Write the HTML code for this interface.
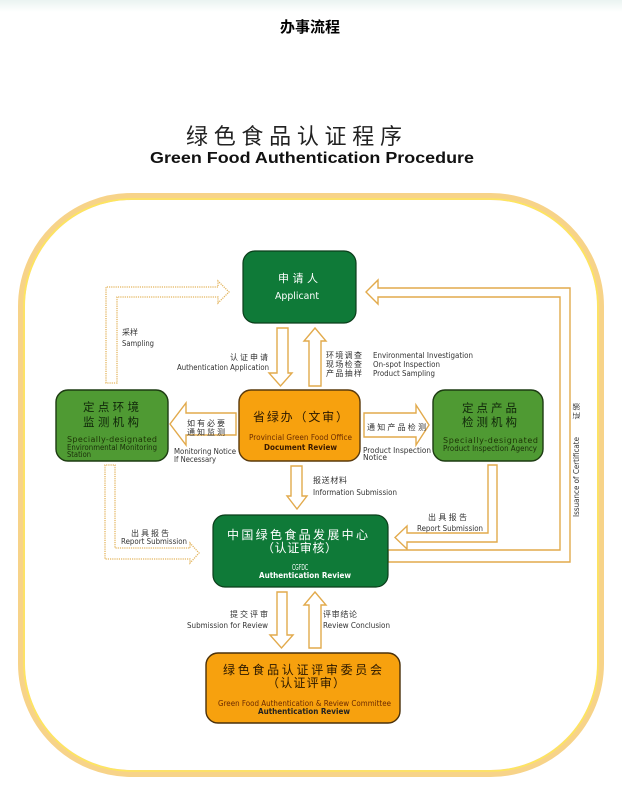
<!DOCTYPE html>
<html><head><meta charset="utf-8"><style>
html,body{margin:0;padding:0;background:#fff;width:622px;height:805px;overflow:hidden}
svg{display:block}
.cn{font-family:"Liberation Sans","Noto Sans CJK SC",sans-serif}
.en{font-family:"DejaVu Sans","Liberation Sans",sans-serif}
</style></head><body>
<svg width="622" height="805" viewBox="0 0 622 805" xmlns="http://www.w3.org/2000/svg">
<defs>
<linearGradient id="tg" x1="0" y1="0" x2="0" y2="1"><stop offset="0" stop-color="#eaf3f1"/><stop offset="1" stop-color="#ffffff"/></linearGradient>
</defs>
<rect x="0" y="0" width="622" height="12" fill="url(#tg)"/>
<text class="cn" x="280" y="32" font-size="15" font-weight="bold" textLength="60" fill="#000">办事流程</text>

<text class="cn" x="186" y="144" font-size="22" textLength="216" fill="#222">绿色食品认证程序</text>
<text x="150" y="163" font-family="Liberation Sans,sans-serif" font-size="16" font-weight="bold" textLength="324" lengthAdjust="spacingAndGlyphs" fill="#111">Green Food Authentication Procedure</text>

<!-- outer frame -->
<rect x="21.5" y="196.5" width="579" height="577" rx="110" fill="none" stroke="#f7d389" stroke-width="7"/>
<rect x="24" y="199" width="574" height="572" rx="107.5" fill="none" stroke="#fde65e" stroke-width="1.6"/>

<!-- arrows -->
<g fill="#fff" stroke="#e2aa4c" stroke-width="1.4" stroke-linejoin="miter">
<path d="M277,328 H288 V373 H292 L280.5,386 L269,373 H277 Z"/>
<path d="M309,386 V341 H304 L315,328 L326,341 H321 V386 Z"/>
<path d="M236,413 H186 V403 L170,424 L186,445 V435 H236 Z"/>
<path d="M364,413 H416 V405 L429,425 L416,445 V437 H364 Z"/>
<path d="M291,466 H302 V496 H307 L297,509 L287,496 H291 Z"/>
<path d="M488,465 V533 H407 V526 L395,537.5 L407,549 V542 H497 V465 Z"/>
<path d="M388,550 H560 V297 H378 V304 L366,292 L378,280 V288 H570 V562 H388 Z"/>
<path d="M277,592 H287 V635 H293 L281.5,648 L270,635 H277 Z"/>
<path d="M309,648 V605 H304 L315,592 L326,605 H321 V648 Z"/>
</g>
<g fill="#fff" stroke="#e3b45c" stroke-width="1.3" stroke-dasharray="1.2 1">
<path d="M106,383 V287 H218 V281 L229,292 L218,303 V297 H117 V383 Z"/>
<path d="M105,465 V559 H190 V563 L199,553 L190,543 V548 H115 V465 Z"/>
</g>

<!-- boxes -->
<rect x="243" y="251" width="113" height="72" rx="12" fill="#0f7a38" stroke="#0b3d1a" stroke-width="1.2"/>
<text class="cn" x="278" y="282" font-size="11" textLength="40" fill="#fff">申请人</text>
<text class="en" x="275" y="299" font-size="10" textLength="44" lengthAdjust="spacingAndGlyphs" fill="#fff">Applicant</text>

<rect x="56" y="390" width="112" height="71" rx="12" fill="#4f9a33" stroke="#1d3b12" stroke-width="1.4"/>
<text class="cn" x="83" y="411" font-size="11.5" textLength="56" fill="#10260a">定点环境</text>
<text class="cn" x="83" y="426" font-size="11.5" textLength="56" fill="#10260a">监测机构</text>
<text class="en" x="67" y="442" font-size="8" textLength="90" fill="#1c3406">Specially-designated</text>
<text class="en" x="67" y="450" font-size="7.5" textLength="90" lengthAdjust="spacingAndGlyphs" fill="#1a2e0a">Environmental Monitoring</text>
<text class="en" x="67" y="457" font-size="7.5" textLength="24" lengthAdjust="spacingAndGlyphs" fill="#1a2e0a">Station</text>

<rect x="239" y="390" width="121" height="71" rx="12" fill="#f7a10e" stroke="#5a3a0c" stroke-width="1.4"/>
<text class="cn" x="253" y="421" font-size="12" textLength="95" fill="#2a1800">省绿办（文审）</text>
<text class="en" x="249" y="440" font-size="8" textLength="103" lengthAdjust="spacingAndGlyphs" fill="#6b2c00">Provincial Green Food Office</text>
<text class="en" x="264" y="450" font-size="8" font-weight="bold" textLength="73" lengthAdjust="spacingAndGlyphs" fill="#3a1a00">Document Review</text>

<rect x="433" y="390" width="110" height="71" rx="12" fill="#4f9a33" stroke="#1d3b12" stroke-width="1.4"/>
<text class="cn" x="462" y="412" font-size="11.5" textLength="55" fill="#10260a">定点产品</text>
<text class="cn" x="462" y="426" font-size="11.5" textLength="55" fill="#10260a">检测机构</text>
<text class="en" x="443" y="443" font-size="8" textLength="95" fill="#1c3406">Specially-designated</text>
<text class="en" x="443" y="451" font-size="7.5" textLength="94" lengthAdjust="spacingAndGlyphs" fill="#1a2e0a">Product Inspection Agency</text>

<rect x="213" y="515" width="175" height="72" rx="12" fill="#0f7a38" stroke="#0b3d1a" stroke-width="1.2"/>
<text class="cn" x="227" y="539" font-size="12" textLength="141" fill="#fff">中国绿色食品发展中心</text>
<text class="cn" x="262" y="552" font-size="12" textLength="75" fill="#fff">（认证审核）</text>
<text class="en" x="292" y="570" font-size="7.5" textLength="16" lengthAdjust="spacingAndGlyphs" fill="#fff">CGFDC</text>
<text class="en" x="259" y="578" font-size="8" font-weight="bold" textLength="92" lengthAdjust="spacingAndGlyphs" fill="#fff">Authentication Review</text>

<rect x="206" y="653" width="194" height="70" rx="12" fill="#f7a10e" stroke="#4a300a" stroke-width="1.4"/>
<text class="cn" x="223" y="674" font-size="12" textLength="159" fill="#2a1800">绿色食品认证评审委员会</text>
<text class="cn" x="267" y="687" font-size="12" textLength="78" fill="#2a1800">（认证评审）</text>
<text class="en" x="218" y="706" font-size="8" textLength="173" lengthAdjust="spacingAndGlyphs" fill="#6b2a00">Green Food Authentication &amp; Review Committee</text>
<text class="en" x="258" y="714" font-size="8" font-weight="bold" textLength="92" lengthAdjust="spacingAndGlyphs" fill="#222">Authentication Review</text>

<!-- labels -->
<g fill="#333">
<text class="cn" x="230" y="360" font-size="8" textLength="38">认证申请</text>
<text class="en" x="177" y="370" font-size="7.5" textLength="92" lengthAdjust="spacingAndGlyphs">Authentication Application</text>

<text class="cn" x="326" y="358" font-size="8" textLength="36">环境调查</text>
<text class="cn" x="326" y="367" font-size="8" textLength="36">现场检查</text>
<text class="cn" x="326" y="376" font-size="8" textLength="36">产品抽样</text>
<text class="en" x="373" y="358" font-size="7.5" textLength="100" lengthAdjust="spacingAndGlyphs">Environmental Investigation</text>
<text class="en" x="373" y="367" font-size="7.5" textLength="67" lengthAdjust="spacingAndGlyphs">On-spot Inspection</text>
<text class="en" x="373" y="376" font-size="7.5" textLength="62" lengthAdjust="spacingAndGlyphs">Product Sampling</text>

<text class="cn" x="122" y="335" font-size="8" textLength="16">采样</text>
<text class="en" x="122" y="346" font-size="7.5" textLength="32" lengthAdjust="spacingAndGlyphs">Sampling</text>

<text class="cn" x="187" y="426" font-size="8" textLength="38">如有必要</text>
<text class="cn" x="187" y="435" font-size="8" textLength="38">通知监测</text>
<text class="en" x="174" y="454" font-size="7.5" textLength="62" lengthAdjust="spacingAndGlyphs">Monitoring Notice</text>
<text class="en" x="174" y="462" font-size="7.5" textLength="42" lengthAdjust="spacingAndGlyphs">If Necessary</text>

<text class="cn" x="367" y="430" font-size="8" textLength="59">通知产品检测</text>
<text class="en" x="363" y="453" font-size="7.5" textLength="68" lengthAdjust="spacingAndGlyphs">Product Inspection</text>
<text class="en" x="363" y="460" font-size="7.5" textLength="24" lengthAdjust="spacingAndGlyphs">Notice</text>

<text class="cn" x="313" y="483" font-size="8" textLength="34">报送材料</text>
<text class="en" x="313" y="495" font-size="7.5" textLength="84" lengthAdjust="spacingAndGlyphs">Information Submission</text>

<text class="cn" x="131" y="536" font-size="8" textLength="38">出具报告</text>
<text class="en" x="121" y="544" font-size="7.5" textLength="66" lengthAdjust="spacingAndGlyphs">Report Submission</text>

<text class="cn" x="428" y="520" font-size="8" textLength="39">出具报告</text>
<text class="en" x="417" y="531" font-size="7.5" textLength="66" lengthAdjust="spacingAndGlyphs">Report Submission</text>

<text class="cn" x="230" y="617" font-size="8" textLength="38">提交评审</text>
<text class="en" x="187" y="628" font-size="7.5" textLength="81" lengthAdjust="spacingAndGlyphs">Submission for Review</text>
<text class="cn" x="323" y="617" font-size="8" textLength="34">评审结论</text>
<text class="en" x="323" y="628" font-size="7.5" textLength="67" lengthAdjust="spacingAndGlyphs">Review Conclusion</text>

<text class="en" transform="translate(579,517) rotate(-90)" font-size="7.5" textLength="80" lengthAdjust="spacingAndGlyphs">Issuance of Certificate</text>
<text class="cn" transform="translate(579,403) rotate(-90)" font-size="7.5" text-anchor="end">颁</text>
<text class="cn" transform="translate(579,412) rotate(-90)" font-size="7.5" text-anchor="end">证</text>
</g>
</svg>
</body></html>
